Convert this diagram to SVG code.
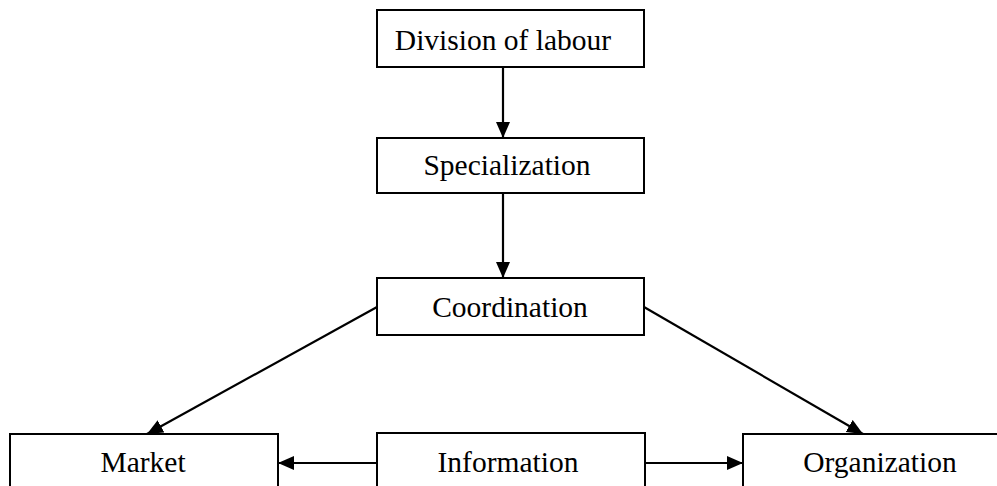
<svg xmlns="http://www.w3.org/2000/svg" width="997" height="486" viewBox="0 0 997 486">
<style>
.box{fill:#fff;stroke:#000;stroke-width:2}
.lbl{font-family:"Liberation Serif","Times New Roman",serif;font-size:29.5px;fill:#000;text-anchor:middle}
.con{stroke:#000;stroke-width:2.2;fill:none;marker-end:url(#ah)}
</style>
<defs>
<marker id="ah" markerUnits="userSpaceOnUse" markerWidth="17" markerHeight="15" refX="16" refY="7" orient="auto">
<path d="M0,0 L16,7 L0,14 z" fill="#000"/>
</marker>
</defs>
<g id="connectors">
<line class="con" x1="503" y1="67" x2="503" y2="138"/>
<line class="con" x1="503" y1="193" x2="503" y2="278"/>
<line class="con" x1="377" y1="307" x2="147" y2="434"/>
<line class="con" x1="644" y1="307" x2="863" y2="434"/>
<line class="con" x1="377" y1="463" x2="278" y2="463"/>
<line class="con" x1="645" y1="463" x2="743" y2="463"/>
</g>
<g id="division">
<rect class="box" x="377" y="10" width="267" height="57"/>
<text class="lbl" x="503" y="50">Division of labour</text>
</g>
<g id="specialization">
<rect class="box" x="377" y="138" width="267" height="55"/>
<text class="lbl" x="507" y="175">Specialization</text>
</g>
<g id="coordination">
<rect class="box" x="377" y="278" width="267" height="57"/>
<text class="lbl" x="510" y="317">Coordination</text>
</g>
<g id="market">
<rect class="box" x="10" y="434" width="268" height="60"/>
<text class="lbl" x="143" y="472">Market</text>
</g>
<g id="information">
<rect class="box" x="377" y="433" width="268" height="60"/>
<text class="lbl" x="508" y="472">Information</text>
</g>
<g id="organization">
<rect class="box" x="743" y="434" width="260" height="60"/>
<text class="lbl" x="880" y="472">Organization</text>
</g>
</svg>
